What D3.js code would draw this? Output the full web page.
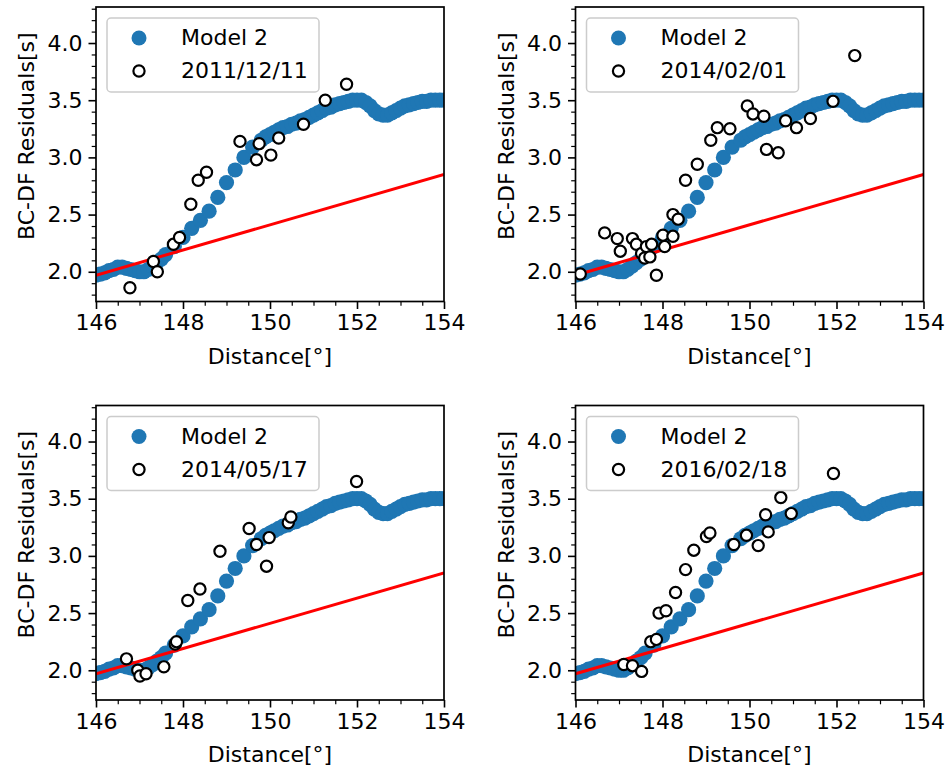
<!DOCTYPE html>
<html>
<head>
<meta charset="utf-8">
<script src="https://cdn.jsdelivr.net/npm/d3@7"></script>
<style>
  body { margin: 0; background: #fff; }
  svg { display: block; }
  text { font-family: "DejaVu Sans", sans-serif; fill: #000; }
</style>
</head>
<body>
<svg id="fig" width="950" height="769"></svg>
<script>
// Model 2 predicted residuals along the profile
const modelDistance = [146.0, 146.1, 146.2, 146.3, 146.4, 146.5, 146.6, 146.7, 146.8, 146.9,
  147.0, 147.1, 147.2, 147.3, 147.4, 147.5, 147.6, 147.8,
  148.0, 148.2, 148.4, 148.6, 148.8, 149.0, 149.2, 149.4, 149.6, 149.8, 149.9,
  150.0, 150.1, 150.2, 150.3, 150.4, 150.5, 150.6, 150.7, 150.8, 150.9,
  151.0, 151.1, 151.2, 151.3, 151.4, 151.5, 151.6, 151.7, 151.8, 151.9,
  152.0, 152.1, 152.2, 152.3, 152.4, 152.5, 152.6, 152.7, 152.8, 152.9,
  153.0, 153.1, 153.2, 153.3, 153.4, 153.5, 153.6, 153.7, 153.8, 153.9, 154.0];
const modelResidual = [1.97, 1.98, 1.99, 2.01, 2.02, 2.04, 2.04, 2.03, 2.02, 2.01,
  2.00, 2.00, 2.02, 2.05, 2.08, 2.11, 2.15, 2.22,
  2.30, 2.38, 2.45, 2.53, 2.65, 2.78, 2.89, 3.00, 3.09, 3.15, 3.18,
  3.20, 3.22, 3.24, 3.26, 3.27, 3.29, 3.30, 3.32, 3.33, 3.35,
  3.37, 3.39, 3.41, 3.43, 3.44, 3.46, 3.47, 3.48, 3.49, 3.50,
  3.50, 3.50, 3.48, 3.45, 3.41, 3.38, 3.37, 3.37, 3.39, 3.41,
  3.43, 3.45, 3.46, 3.47, 3.48, 3.49, 3.49, 3.50, 3.50, 3.50, 3.50];

// Straight reference trend (end points)
const trendDistance = [146, 154];
const trendResidual = [1.97, 2.85];

// Observed BC-DF residuals, one list per event: [distance, residual]
const event20111211 = [[146.78, 1.86], [147.32, 2.09], [147.41, 2.00], [147.78, 2.24], [147.92, 2.30],
  [148.18, 2.59], [148.35, 2.80], [148.54, 2.87], [149.31, 3.14], [149.69, 2.98], [149.75, 3.12],
  [150.02, 3.02], [150.20, 3.17], [150.77, 3.29], [151.27, 3.50], [151.76, 3.64]];
const event20140201 = [[146.11, 1.98], [146.67, 2.34], [146.96, 2.29], [147.03, 2.18], [147.31, 2.29],
  [147.40, 2.24], [147.52, 2.16], [147.63, 2.22], [147.59, 2.12], [147.71, 2.13], [147.75, 2.24],
  [147.86, 1.97], [148.01, 2.32], [148.05, 2.22], [148.24, 2.31], [148.24, 2.50], [148.36, 2.46],
  [148.53, 2.80], [148.80, 2.94], [149.11, 3.15], [149.26, 3.26], [149.55, 3.25], [149.95, 3.45],
  [150.08, 3.38], [150.33, 3.36], [150.39, 3.07], [150.66, 3.04], [150.83, 3.32], [151.08, 3.26],
  [151.40, 3.34], [151.92, 3.49], [152.42, 3.89]];
const event20140517 = [[146.70, 2.10], [146.96, 2.00], [147.01, 1.95], [147.15, 1.97], [147.56, 2.03],
  [147.82, 2.23], [147.85, 2.25], [148.11, 2.61], [148.39, 2.71], [148.85, 3.04], [149.52, 3.24],
  [149.69, 3.10], [149.92, 2.91], [149.98, 3.16], [150.42, 3.29], [150.48, 3.34], [151.99, 3.65]];
const event20160218 = [[147.11, 2.05], [147.31, 2.04], [147.52, 1.99], [147.73, 2.25], [147.86, 2.27],
  [147.92, 2.50], [148.08, 2.52], [148.30, 2.68], [148.53, 2.88], [148.72, 3.05], [149.01, 3.17],
  [149.09, 3.20], [149.64, 3.10], [149.93, 3.18], [150.20, 3.09], [150.37, 3.36], [150.43, 3.21],
  [150.72, 3.51], [150.96, 3.37], [151.93, 3.72]];

const eventLabels = ["2011/12/11", "2014/02/01", "2014/05/17", "2016/02/18"];
const eventData = [event20111211, event20140201, event20140517, event20160218];

const xTicks = [146, 148, 150, 152, 154];
const yTicks = [2.0, 2.5, 3.0, 3.5, 4.0];
const xMinorTicks = [146.5, 147, 147.5, 148.5, 149, 149.5, 150.5, 151, 151.5, 152.5, 153, 153.5];
const yMinorTicks = [1.8, 1.9, 2.1, 2.2, 2.3, 2.4, 2.6, 2.7, 2.8, 2.9, 3.1, 3.2, 3.3, 3.4, 3.6, 3.7, 3.8, 3.9, 4.1, 4.2, 4.3];

const xLabel = "Distance[°]";
const yLabel = "BC-DF Residuals[s]";
const modelLabel = "Model 2";

const W = 348, H = 294.5;
const origins = [[96, 7], [575.5, 7], [96, 405.5], [575.5, 405.5]];
const blue = "#1f77b4";

const x = d3.scaleLinear().domain([146, 154]).range([0, W]);
const y = d3.scaleLinear().domain([1.74, 4.315]).range([H, 0]);

const svg = d3.select("#fig");
const model = modelDistance.map((d, i) => [d, modelResidual[i]]);
const trend = trendDistance.map((d, i) => [d, trendResidual[i]]);

function styleAxis(g, width) {
  g.select(".domain").remove();
  g.selectAll(".tick line").attr("stroke", "#000").attr("stroke-width", width);
  g.selectAll(".tick text").attr("font-size", 22).attr("font-family", "DejaVu Sans");
}

origins.forEach(([left, top], p) => {
  const g = svg.append("g").attr("transform", `translate(${left},${top})`);
  const clipId = "clip" + p;
  g.append("clipPath").attr("id", clipId)
    .append("rect").attr("width", W).attr("height", H);

  const plot = g.append("g").attr("clip-path", `url(#${clipId})`);

  // model band
  plot.selectAll("circle.model").data(model).join("circle")
    .attr("class", "model")
    .attr("cx", d => x(d[0])).attr("cy", d => y(d[1]))
    .attr("r", 7.6).attr("fill", blue);

  // trend line
  plot.append("path").datum(trend)
    .attr("d", d3.line().x(d => x(d[0])).y(d => y(d[1])))
    .attr("stroke", "#ff0000").attr("stroke-width", 3).attr("fill", "none");

  // observations
  plot.selectAll("circle.obs").data(eventData[p]).join("circle")
    .attr("class", "obs")
    .attr("cx", d => x(d[0])).attr("cy", d => y(d[1]))
    .attr("r", 5.6).attr("fill", "#fff")
    .attr("stroke", "#000").attr("stroke-width", 2.2);

  // axes
  const gx = g.append("g").attr("transform", `translate(0,${H})`)
    .call(d3.axisBottom(x).tickValues(xTicks).tickFormat(d3.format("d")).tickSize(7.5).tickPadding(5));
  styleAxis(gx, 1.6);
  gx.selectAll(".tick text").attr("dy", "0.78em").attr("y", 11.5);
  const gxm = g.append("g").attr("transform", `translate(0,${H})`)
    .call(d3.axisBottom(x).tickValues(xMinorTicks).tickFormat("").tickSize(4.3));
  styleAxis(gxm, 1.2);

  const gy = g.append("g")
    .call(d3.axisLeft(y).tickValues(yTicks).tickFormat(d3.format(".1f")).tickSize(7.5).tickPadding(6));
  styleAxis(gy, 1.6);
  const gym = g.append("g")
    .call(d3.axisLeft(y).tickValues(yMinorTicks).tickFormat("").tickSize(4.3));
  styleAxis(gym, 1.2);

  // frame
  g.append("rect").attr("width", W).attr("height", H)
    .attr("fill", "none").attr("stroke", "#000").attr("stroke-width", 1.7);

  // axis titles
  g.append("text").attr("x", W / 2).attr("y", H + 62)
    .attr("text-anchor", "middle").attr("font-size", 22).text(xLabel);
  g.append("text")
    .attr("transform", `translate(-62,${H / 2 - 18}) rotate(-90)`)
    .attr("text-anchor", "middle").attr("font-size", 22).text(yLabel);

  // legend
  const lg = g.append("g").attr("transform", "translate(11,11)");
  lg.append("rect").attr("width", 212).attr("height", 74).attr("rx", 4)
    .attr("fill", "#fff").attr("fill-opacity", 0.8)
    .attr("stroke", "#cccccc").attr("stroke-width", 1.5);
  lg.append("circle").attr("cx", 32).attr("cy", 20).attr("r", 7.5).attr("fill", blue);
  lg.append("text").attr("x", 74).attr("y", 27).attr("font-size", 22).text(modelLabel);
  lg.append("circle").attr("cx", 32).attr("cy", 53).attr("r", 5.6)
    .attr("fill", "#fff").attr("stroke", "#000").attr("stroke-width", 2.2);
  lg.append("text").attr("x", 74).attr("y", 60).attr("font-size", 22).text(eventLabels[p]);
});
</script>
</body>
</html>
